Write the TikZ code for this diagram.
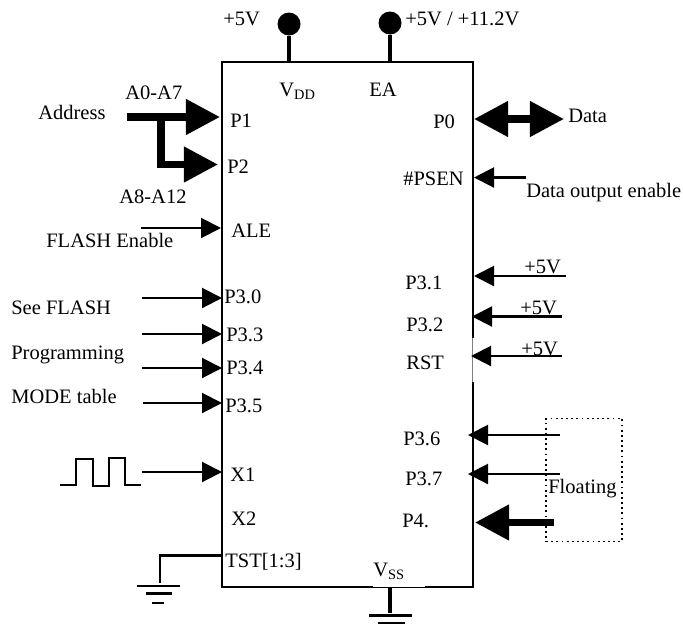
\documentclass[tikz,border=0pt]{standalone}
\usepackage{fontspec}
\setmainfont{Liberation Serif}
\usepackage{xcolor}
\usepackage{tikz}
\usetikzlibrary{arrows.meta}

\tikzset{
	lbl/.style={anchor=base west, inner sep=0pt, font=\fontsize{12.3pt}{14pt}\selectfont},
	chipbox/.style={draw, line width=1.2pt, minimum width=150.4pt, minimum height=315pt, inner sep=0pt},
	sig/.style={line width=1.25pt, -{Triangle[length=12pt, width=12pt]}},
	bus/.style={line width=4.4pt, -{Triangle[length=20.5pt, width=20.5pt]}},
	rail/.style={line width=2pt},
	gnd/.style={line width=1.25pt},
	pad/.style={circle, fill=black, minimum size=13.8pt, inner sep=0pt},
	cover/.style={white, line width=1.6pt},
	faint/.style={gray, line width=.5pt}
}

\begin{document}
\begin{tikzpicture}[x=.6pt, y=-.6pt]
	\useasboundingbox (0,0) rectangle (683,631);
	\node[chipbox] (chip) at (347.5,324.5) {};

	% thin stretches of the outline
	\coordinate (edgea) at (472.5,338);
	\coordinate (edgeb) at (472.5,382);
	\coordinate (edgec) at (373,587);
	\coordinate (edged) at (425,587);
	\draw[cover] (edgea) -- (edgeb);
	\draw[cover] (edgec) -- (edged);
	\draw[faint] (edgea) -- (edgeb);
	\draw[line width=.6pt] (edgec) -- (edged);

	% supply pads
	\node[pad] (vdd) at (289,24) {};
	\node[pad] (ea) at (390,23) {};
	\coordinate (vddpin) at (289,62);
	\coordinate (eapin) at (390,62);
	\draw[rail] (vdd) -- (vddpin);
	\draw[rail] (ea) -- (eapin);

	% address bus
	\coordinate (addr) at (127,117);
	\coordinate (pone) at (220,117);
	\coordinate (ptwo) at (218,164.5);
	\coordinate (split) at (161,117);
	\draw[bus] (addr) -- (pone);
	\draw[bus] (split) |- (ptwo);

	% left inputs
	\coordinate (alefrom) at (141,228);
	\coordinate (aleto) at (221,228);
	\coordinate (pthreea) at (142,298);
	\coordinate (pthreeato) at (222,298);
	\coordinate (pthreeb) at (142,334);
	\coordinate (pthreebto) at (222,334);
	\coordinate (pthreec) at (142,368);
	\coordinate (pthreecto) at (222,368);
	\coordinate (pthreed) at (143,403);
	\coordinate (pthreedto) at (222,403);
	\coordinate (xfrom) at (142,472);
	\coordinate (xto) at (222,472);
	\draw[sig] (alefrom) -- (aleto);
	\draw[sig] (pthreea) -- (pthreeato);
	\draw[sig] (pthreeb) -- (pthreebto);
	\draw[sig] (pthreec) -- (pthreecto);
	\draw[sig] (pthreed) -- (pthreedto);
	\draw[sig] (xfrom) -- (xto);

	% clock
	\draw[gnd] (60,485) -- (76,485) -- (76,459) -- (93,459) -- (93,486) -- (109,486) -- (109,458) -- (125,458) -- (125,485) -- (141,485);

	% test pins
	\coordinate (tstpin) at (222,555.5);
	\coordinate (tstgnd) at (160,583);
	\draw[gnd] (tstpin) -| (tstgnd);
	\draw[gnd] (137,586) -- (180,586);
	\draw[gnd] (146,593.5) -- (172,593.5);
	\draw[gnd] (152,603) -- (164,603);

	% ground of the chip
	\coordinate (vsspin) at (390,587);
	\coordinate (vssgnd) at (390,613);
	\draw[rail] (vsspin) -- (vssgnd);
	\draw[gnd] (369,615.5) -- (412,615.5);
	\draw[gnd] (378,623) -- (405,623);

	% right side
	\coordinate (pzero) at (474,119);
	\coordinate (datato) at (564,119);
	\draw[line width=4.4pt, {Triangle[length=20.5pt, width=20.5pt]}-{Triangle[length=20.5pt, width=20.5pt]}] (pzero) -- (datato);
	\coordinate (psenfrom) at (526,177.5);
	\coordinate (psento) at (474,177.5);
	\coordinate (ponefrom) at (566,276);
	\coordinate (poneto) at (474,276);
	\coordinate (ptwofrom) at (562,316.5);
	\coordinate (ptwoto) at (472,316.5);
	\coordinate (rstfrom) at (562,356);
	\coordinate (rstto) at (471,356);
	\coordinate (psixfrom) at (560,435);
	\coordinate (psixto) at (468,435);
	\coordinate (psevenfrom) at (560,474);
	\coordinate (psevento) at (468,474);
	\coordinate (pfourfrom) at (554,522.5);
	\coordinate (pfourto) at (475,522.5);
	\draw[sig] (psenfrom) -- (psento);
	\draw[sig] (ponefrom) -- (poneto);
	\draw[sig] (ptwofrom) -- (ptwoto);
	\draw[sig] (rstfrom) -- (rstto);
	\draw[sig] (psixfrom) -- (psixto);
	\draw[sig] (psevenfrom) -- (psevento);
	\draw[bus] (pfourfrom) -- (pfourto);

	\node[draw, dotted, line width=1.1pt, minimum width=45.6pt, minimum height=73.8pt, inner sep=0pt] (floatbox) at (584,480) {};

	% labels
	\node[lbl] (lvdd) at (223,25) {+5V};
	\node[lbl] (lea) at (405,25) {+5V / +11.2V};
	\node[lbl] (tvdd) at (279,96) {V\textsubscript{DD}};
	\node[lbl] (tea) at (369,96) {EA};
	\node[lbl] (la) at (125,99) {A0-A7};
	\node[lbl] (laddr) at (38,119) {Address};
	\node[lbl] (lb) at (119,203) {A8-A12};
	\node[lbl] (lflash) at (46,247) {FLASH Enable};
	\node[lbl] (lsee) at (11,314) {See FLASH};
	\node[lbl] (lprog) at (11,359) {Programming};
	\node[lbl] (lmode) at (11,403) {MODE table};
	\node[lbl] (tpone) at (230,127) {P1};
	\node[lbl] (tptwo) at (227,173) {P2};
	\node[lbl] (tale) at (231,237) {ALE};
	\node[lbl] (tpa) at (224,303) {P3.0};
	\node[lbl] (tpb) at (226,341) {P3.3};
	\node[lbl] (tpc) at (226,374) {P3.4};
	\node[lbl] (tpd) at (225,412) {P3.5};
	\node[lbl] (txa) at (230,481) {X1};
	\node[lbl] (txb) at (231,525) {X2};
	\node[lbl] (ttst) at (225,567) {TST[1:3]};
	\node[lbl] (tzero) at (433,128) {P0};
	\node[lbl] (ldata) at (568,122) {Data};
	\node[lbl] (tpsen) at (403,185) {\#PSEN};
	\node[lbl] (loe) at (526,197) {Data output enable};
	\node[lbl] (tpe) at (405,289) {P3.1};
	\node[lbl] (lpe) at (524,273) {+5V};
	\node[lbl] (tpf) at (406,331) {P3.2};
	\node[lbl] (lpf) at (520,314) {+5V};
	\node[lbl] (trst) at (406,369) {RST};
	\node[lbl] (lrst) at (521,355) {+5V};
	\node[lbl] (tpg) at (403,445) {P3.6};
	\node[lbl] (tph) at (405,485) {P3.7};
	\node[lbl] (lfloat) at (548,493) {Floating};
	\node[lbl] (tfour) at (402,527) {P4.};
	\node[lbl] (tvss) at (373,576) {V\textsubscript{SS}};
\end{tikzpicture}
\end{document}
